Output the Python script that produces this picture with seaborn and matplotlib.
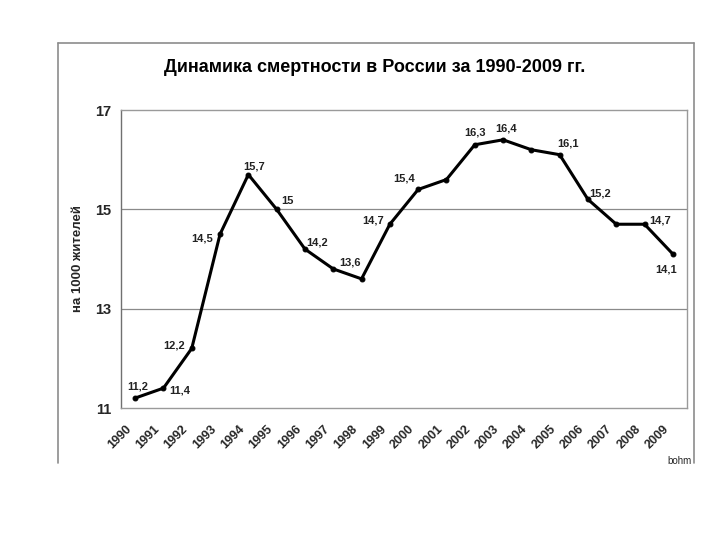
import numpy as np
import pandas as pd
import matplotlib
matplotlib.use('Agg')
import matplotlib.pyplot as plt
from matplotlib.lines import Line2D
import seaborn as sns

years = [str(y) for y in range(1990, 2010)]
rate = [11.2, 11.4, 12.2, 14.5, 15.7, 15.0, 14.2, 13.8, 13.6, 14.7,
        15.4, 15.6, 16.3, 16.4, 16.2, 16.1, 15.2, 14.7, 14.7, 14.1]
# which points carry a value label
labelled = [1, 1, 1, 1, 1, 1, 1, 0, 1, 1, 1, 0, 1, 1, 0, 1, 1, 0, 1, 1]
y_ticks = [11, 13, 15, 17]

# label offsets in points (dx, dy)
offsets = {0: (2, 8), 1: (12, -2), 2: (-13, 2), 3: (-13, -3), 4: (4, 6),
           5: (8, 6), 6: (9, 5), 8: (-8, 12), 9: (-12, 3), 10: (-10, 8),
           12: (0, 9), 13: (2, 8), 15: (6, 8), 16: (9, 4), 18: (11, 3),
           19: (-5, -11)}

df = pd.DataFrame({'idx': np.arange(len(years)), 'rate': rate})

sns.set_style('white')
plt.rcParams['font.family'] = ['Liberation Sans', 'DejaVu Sans']

fig = plt.figure(figsize=(7.2, 5.4), dpi=100)
ax = fig.add_axes([121 / 720, 1 - 408 / 540, 566 / 720, 298 / 540])

sns.lineplot(data=df, x='idx', y='rate', ax=ax, color='black', lw=2.2,
             marker='o', markersize=3.5, markeredgecolor='black')

for i, v in enumerate(rate):
    if labelled[i]:
        dx, dy = offsets[i]
        txt = ('%g' % v).replace('.', ',')
        ax.annotate(txt, (i, v), xytext=(dx, dy), textcoords='offset points',
                    ha='center', va='center', fontsize=8, fontweight='bold',
                    color='#222222')

ax.set_xlim(-0.5, len(years) - 0.5)
ax.set_ylim(11, 17)
ax.set_yticks(y_ticks)
ax.set_yticklabels([str(t) for t in y_ticks], fontsize=10.5, fontweight='bold')
# year labels sit a little left of each category centre, as in the original
ax.set_xticks(np.arange(len(years)) - 0.2)
ax.set_xticklabels(years, rotation=45, ha='right', va='center',
                   rotation_mode='anchor', fontsize=9, fontweight='bold')
ax.set_xticks(np.arange(len(years) + 1) - 0.5, minor=True)
ax.tick_params(axis='x', which='major', length=0, pad=14)
ax.tick_params(axis='x', which='minor', length=3, color='#888888', direction='out')
ax.tick_params(axis='y', length=4, color='#888888', direction='out', pad=3)
ax.set_xlabel('')
ax.set_ylabel('на 1000 жителей', fontsize=9.5, fontweight='bold', labelpad=8)

ax.grid(False)
for t in [13, 15]:
    ax.axhline(t, color='#8a8a8a', lw=0.9, zorder=0)
for s in ['top', 'right', 'bottom']:
    ax.spines[s].set_color('#9a9a9a')
    ax.spines[s].set_linewidth(1.0)
ax.spines['left'].set_color('#707070')
ax.spines['left'].set_linewidth(1.0)

fig.suptitle('Динамика смертности в России за 1990-2009 гг.', x=0.52, y=1 - 68 / 540,
             va='center', fontsize=13, fontweight='bold', color='black')

# outer chart frame (no bottom edge)
x0, x1 = 58 / 720, 694 / 720
y0, y1 = 1 - 463 / 540, 1 - 43 / 540
for xs, ys in [((x0, x1), (y1, y1)), ((x0, x0), (y0, y1)), ((x1, x1), (y0, y1))]:
    fig.add_artist(Line2D(xs, ys, color='#8c8c8c', lw=1.2, transform=fig.transFigure))

fig.text(692 / 720, 1 - 461 / 540, 'bohm', ha='right', va='center', fontsize=7)

fig.savefig('out.png', dpi=100)
